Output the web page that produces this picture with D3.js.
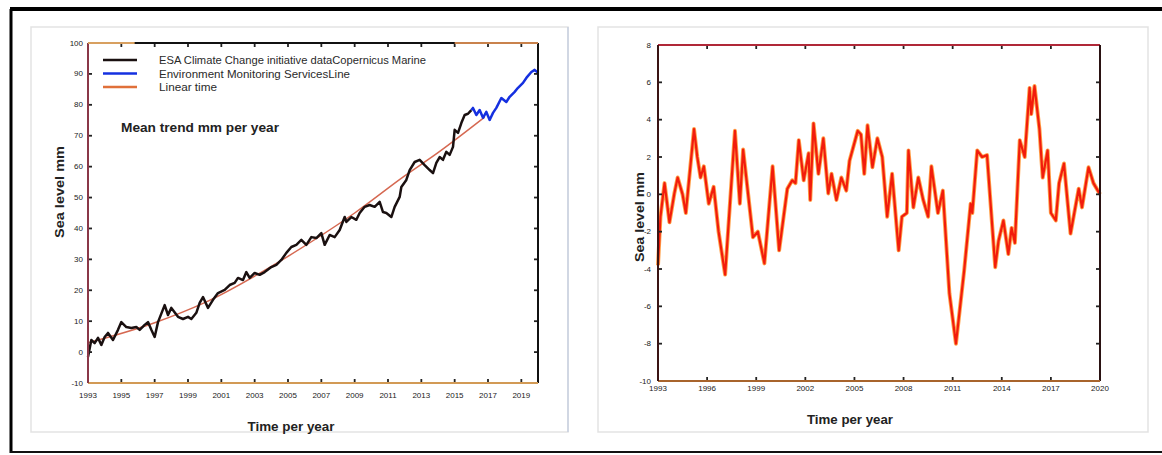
<!DOCTYPE html>
<html>
<head>
<meta charset="utf-8">
<script src="https://cdn.jsdelivr.net/npm/d3@7"></script>
<style>
  body { margin: 0; background: #fff; }
  svg { display: block; }
  text { font-family: "Liberation Sans", Arial, sans-serif; fill: #222; }
  .tick-lbl { font-size: 8px; fill: #222; }
  .leg { font-size: 11.5px; fill: #2a2a2a; }
  .ttl { font-weight: bold; font-size: 12.5px; fill: #222; }
</style>
</head>
<body>
<svg id="chart" width="1162" height="455"></svg>
<script>
// ---- data ----
// left: global mean sea level (mm)
var esaYears = [1993.0,1993.2,1993.4,1993.6,1993.8,1994.0,1994.2,1994.5,1994.8,1995.0,1995.3,1995.6,1995.9,1996.1,1996.4,1996.6,1996.8,1997.0,1997.2,1997.6,1997.8,1998.0,1998.4,1998.7,1999.0,1999.2,1999.5,1999.7,1999.9,2000.2,2000.5,2000.8,2001.2,2001.5,2001.8,2002.0,2002.3,2002.5,2002.7,2003.0,2003.3,2003.6,2004.0,2004.3,2004.6,2004.9,2005.2,2005.5,2005.8,2006.1,2006.4,2006.7,2007.0,2007.2,2007.5,2007.8,2008.1,2008.4,2008.5,2008.8,2009.1,2009.3,2009.6,2009.9,2010.2,2010.5,2010.7,2010.9,2011.2,2011.4,2011.7,2011.8,2012.1,2012.3,2012.6,2012.9,2013.2,2013.5,2013.7,2013.9,2014.1,2014.3,2014.5,2014.7,2014.9,2015.0,2015.2,2015.4,2015.6,2015.8,2016.0];
var esaLevels = [-1.6,3.9,2.9,4.6,2.3,4.9,6.2,3.9,7.2,9.7,8.1,7.8,8.1,7.2,8.8,9.7,7.2,4.9,9.7,15.2,12.0,14.3,11.4,10.7,11.4,10.7,12.7,15.9,17.8,14.3,16.9,19.1,20.1,21.7,22.4,24.0,23.3,25.9,24.0,25.6,25.0,25.9,27.5,28.2,29.8,32.1,34.0,34.7,36.3,34.7,37.2,36.9,38.5,34.7,37.9,37.2,39.5,43.7,42.1,43.7,42.8,45.0,47.0,47.6,47.0,48.6,45.3,45.0,43.7,47.0,50.2,53.4,55.7,58.9,61.5,62.2,60.5,58.9,57.9,61.2,63.1,62.2,64.8,63.8,66.4,71.9,70.9,74.1,76.7,77.1,78.3];
var cmemsYears = [2016.0,2016.1,2016.3,2016.5,2016.7,2016.9,2017.1,2017.3,2017.5,2017.8,2018.1,2018.3,2018.6,2018.8,2019.1,2019.3,2019.6,2019.8,2020.0];
var cmemsLevels = [78.3,79.0,76.7,78.3,75.8,77.7,75.1,77.4,79.0,82.2,80.9,82.6,84.2,85.5,87.1,88.7,90.6,91.3,90.4];
var trendYears = [1993, 1997, 2000, 2005, 2009, 2012, 2014, 2016.8];
var trendLevels = [3, 9.5, 16, 31, 45, 57, 64.5, 76];
var leftXTicks = [1993,1995,1997,1999,2001,2003,2005,2007,2009,2011,2013,2015,2017,2019];
var leftYTicks = [-10,0,10,20,30,40,50,60,70,80,90,100];
var legendNames = ["ESA Climate Change initiative dataCopernicus Marine", "Environment Monitoring ServicesLine", "Linear time"];
var legendColors = ["#1a1010", "#1530e0", "#e0703a"];
var legendWidths = [267, 191, 58];

// right: detrended sea level anomaly (mm)
var anomYears = [1993.0,1993.15,1993.4,1993.7,1994.0,1994.2,1994.5,1994.7,1995.2,1995.4,1995.6,1995.8,1996.1,1996.4,1996.7,1997.1,1997.7,1998.0,1998.2,1998.8,1999.1,1999.5,2000.0,2000.4,2000.9,2001.2,2001.4,2001.6,2001.9,2002.2,2002.3,2002.5,2002.8,2003.1,2003.4,2003.6,2003.9,2004.2,2004.5,2004.7,2005.2,2005.4,2005.6,2005.8,2006.1,2006.4,2006.7,2007.0,2007.3,2007.7,2007.9,2008.2,2008.3,2008.6,2008.9,2009.2,2009.5,2009.7,2010.1,2010.4,2010.8,2011.2,2011.7,2012.1,2012.2,2012.5,2012.8,2013.1,2013.6,2013.8,2014.1,2014.4,2014.6,2014.8,2015.1,2015.4,2015.7,2015.8,2016.0,2016.3,2016.5,2016.8,2017.0,2017.3,2017.5,2017.8,2018.2,2018.7,2018.9,2019.3,2019.6,2020.0];
var anomLevels = [-3.8,-1.2,0.6,-1.5,0.05,0.9,0,-1.0,3.5,2.0,0.9,1.5,-0.5,0.4,-2.0,-4.3,3.4,-0.5,2.4,-2.3,-2.0,-3.7,1.5,-3.0,0.3,0.75,0.6,2.9,0.75,2.2,-0.3,3.8,1.1,3.0,0.05,1.1,-0.3,0.9,0.2,1.8,3.4,3.2,1.1,3.7,1.45,3.0,2.0,-1.2,1.1,-3.0,-1.2,-1.0,2.35,-0.7,0.9,-0.3,-1.2,1.5,-1.0,0.2,-5.3,-8.0,-4.1,-0.5,-1.0,2.35,2.0,2.1,-3.9,-2.5,-1.4,-3.2,-1.8,-2.6,2.9,2.0,5.7,4.3,5.8,3.5,0.9,2.35,-1.0,-1.4,0.6,1.65,-2.1,0.3,-0.7,1.45,0.6,0.0];
var rightXTicks = [1993,1996,1999,2002,2005,2008,2011,2014,2017,2020];
var rightYTicks = [-10,-8,-6,-4,-2,0,2,4,6,8];

var svg = d3.select("#chart");

// outer black frame and panel boxes
svg.append("line").attr("x1", 10).attr("x2", 1162).attr("y1", 9).attr("y2", 9).attr("stroke", "#000").attr("stroke-width", 4);
svg.append("line").attr("x1", 11).attr("x2", 11).attr("y1", 9).attr("y2", 453).attr("stroke", "#000").attr("stroke-width", 3);
svg.append("line").attr("x1", 10).attr("x2", 1162).attr("y1", 452).attr("y2", 452).attr("stroke", "#111").attr("stroke-width", 2);
svg.append("rect").attr("x", 31).attr("y", 27).attr("width", 537).attr("height", 405)
  .attr("fill", "none").attr("stroke", "#e3e3e3").attr("stroke-width", 1.5);
svg.append("line").attr("x1", 568).attr("x2", 568).attr("y1", 27).attr("y2", 432).attr("stroke", "#b8c4dc").attr("stroke-width", 1);
svg.append("rect").attr("x", 598).attr("y", 27).attr("width", 550).attr("height", 405)
  .attr("fill", "none").attr("stroke", "#e3e3e3").attr("stroke-width", 1.5);

function drawFrame(g, x, y, xTicks, yTicks, cols) {
  var r = x.range(), d = y.range();
  var x0 = r[0], x1 = r[1], yb = d[0], yt = d[1];
  // tick marks on four sides, pointing inwards
  xTicks.forEach(function (t) {
    g.append("line").attr("x1", x(t)).attr("x2", x(t)).attr("y1", yb).attr("y2", yb - 4).attr("stroke", "#222").attr("stroke-width", 1.8);
    g.append("line").attr("x1", x(t)).attr("x2", x(t)).attr("y1", yt).attr("y2", yt + 4).attr("stroke", "#222").attr("stroke-width", 1.8);
  });
  yTicks.forEach(function (t) {
    g.append("line").attr("x1", x0).attr("x2", x0 + 4).attr("y1", y(t)).attr("y2", y(t)).attr("stroke", "#222").attr("stroke-width", 1.8);
    g.append("line").attr("x1", x1).attr("x2", x1 - 4).attr("y1", y(t)).attr("y2", y(t)).attr("stroke", "#222").attr("stroke-width", 1.8);
  });
  g.append("line").attr("x1", x0).attr("x2", x1).attr("y1", yt).attr("y2", yt).attr("stroke", cols.top).attr("stroke-width", 2);
  g.append("line").attr("x1", x1).attr("x2", x1).attr("y1", yt).attr("y2", yb).attr("stroke", cols.right).attr("stroke-width", 2);
  g.append("line").attr("x1", x0).attr("x2", x1).attr("y1", yb).attr("y2", yb).attr("stroke", cols.bottom).attr("stroke-width", 2);
  g.append("line").attr("x1", x0).attr("x2", x0).attr("y1", yt).attr("y2", yb).attr("stroke", cols.left).attr("stroke-width", 2);
}

function tickLabels(g, x, y, xTicks, yTicks, xOff, yOff) {
  g.selectAll(".xl").data(xTicks).enter().append("text").attr("class", "tick-lbl")
    .attr("x", function (d) { return x(d); }).attr("y", y.range()[0] + xOff)
    .attr("text-anchor", "middle").text(function (d) { return d; });
  g.selectAll(".yl").data(yTicks).enter().append("text").attr("class", "tick-lbl")
    .attr("x", x.range()[0] - yOff).attr("y", function (d) { return y(d) + 2.5; })
    .attr("text-anchor", "end").text(function (d) { return d; });
}

// ---------- left chart ----------
var xL = d3.scaleLinear().domain([1993, 2020]).range([88, 538]);
var yL = d3.scaleLinear().domain([-10, 100]).range([383, 43]);
var gL = svg.append("g");

var lineL = d3.line().x(function (d) { return xL(d[0]); }).y(function (d) { return yL(d[1]); });

gL.append("path").datum(d3.zip(trendYears, trendLevels)).attr("d", lineL.curve(d3.curveMonotoneX))
  .attr("fill", "none").attr("stroke", "#d0583e").attr("stroke-width", 1.5).attr("opacity", 0.9);
lineL.curve(d3.curveLinear);
gL.append("path").datum(d3.zip(esaYears, esaLevels)).attr("d", lineL)
  .attr("fill", "none").attr("stroke", "#1a1010").attr("stroke-width", 2.5).attr("stroke-linejoin", "round");
gL.append("path").datum(d3.zip(cmemsYears, cmemsLevels)).attr("d", lineL)
  .attr("fill", "none").attr("stroke", "#1530e0").attr("stroke-width", 2.5).attr("stroke-linejoin", "round");

drawFrame(gL, xL, yL, leftXTicks, leftYTicks, { top: "#111", right: "#111", bottom: "#d29a55", left: "#8a3848" });
// orange tint on parts of the top edge
gL.append("line").attr("x1", xL(1993)).attr("x2", xL(1995.8)).attr("y1", 43).attr("y2", 43).attr("stroke", "#d8a060").attr("stroke-width", 2);
gL.append("line").attr("x1", xL(2015)).attr("x2", xL(2020)).attr("y1", 43).attr("y2", 43).attr("stroke", "#c9824c").attr("stroke-width", 2);
tickLabels(gL, xL, yL, leftXTicks, leftYTicks, 15, 5);

// legend
legendNames.forEach(function (name, i) {
  var ly = 60 + i * 13.5;
  gL.append("line").attr("x1", 103).attr("x2", 137).attr("y1", ly).attr("y2", ly)
    .attr("stroke", legendColors[i]).attr("stroke-width", 2.5);
  gL.append("text").attr("class", "leg").attr("x", 159).attr("y", ly + 4)
    .attr("textLength", legendWidths[i]).attr("lengthAdjust", "spacingAndGlyphs").text(name);
});
gL.append("text").attr("class", "ttl").attr("x", 121).attr("y", 132)
  .attr("textLength", 158).attr("lengthAdjust", "spacingAndGlyphs").text("Mean trend mm per year");
gL.append("text").attr("class", "ttl").attr("transform", "translate(64,192) rotate(-90)")
  .attr("text-anchor", "middle").attr("textLength", 92).attr("lengthAdjust", "spacingAndGlyphs").text("Sea level mm");
gL.append("text").attr("class", "ttl").attr("x", 291).attr("y", 431).attr("text-anchor", "middle")
  .attr("textLength", 87).attr("lengthAdjust", "spacingAndGlyphs").text("Time per year");

// ---------- right chart ----------
var xR = d3.scaleLinear().domain([1993, 2020]).range([658, 1100]);
var yR = d3.scaleLinear().domain([-10, 8]).range([381, 45]);
var gR = svg.append("g");

var lineR = d3.line().x(function (d) { return xR(d[0]); }).y(function (d) { return yR(d[1]); });
var anom = d3.zip(anomYears, anomLevels);
gR.append("path").datum(anom).attr("d", lineR)
  .attr("fill", "none").attr("stroke", "#ffa04a").attr("stroke-width", 4).attr("stroke-linejoin", "round");
gR.append("path").datum(anom).attr("d", lineR)
  .attr("fill", "none").attr("stroke", "#f21c0c").attr("stroke-width", 2.2).attr("stroke-linejoin", "round");

drawFrame(gR, xR, yR, rightXTicks, rightYTicks, { top: "#b02838", right: "#2a1212", bottom: "#a8642c", left: "#3a1414" });
tickLabels(gR, xR, yR, rightXTicks, rightYTicks, 10, 7);

gR.append("text").attr("class", "ttl").attr("transform", "translate(644,217) rotate(-90)")
  .attr("text-anchor", "middle").attr("textLength", 90).attr("lengthAdjust", "spacingAndGlyphs").text("Sea level mm");
gR.append("text").attr("class", "ttl").attr("x", 850).attr("y", 424).attr("text-anchor", "middle")
  .attr("textLength", 86).attr("lengthAdjust", "spacingAndGlyphs").text("Time per year");
</script>
</body>
</html>
